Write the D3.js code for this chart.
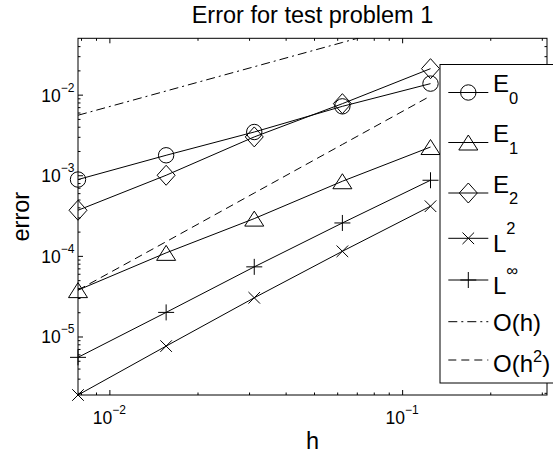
<!DOCTYPE html>
<html>
<head>
<meta charset="utf-8">
<script src="https://cdn.jsdelivr.net/npm/d3@7"></script>
<style>
  html, body { margin: 0; padding: 0; background: #fff; }
  svg { display: block; font-family: "Liberation Sans", Arial, Helvetica, sans-serif; }
</style>
</head>
<body>
<svg id="chart" width="553" height="453"></svg>
<script>
// Mesh sizes and measured errors
const h    = [1/128, 1/64, 1/32, 1/16, 1/8];
const E0   = [8.85e-4, 1.77e-3, 3.44e-3, 7.16e-3, 1.37e-2];
const E1   = [3.76e-5, 1.09e-4, 2.90e-4, 8.43e-4, 2.24e-3];
const E2   = [3.68e-4, 1.00e-3, 2.99e-3, 7.73e-3, 2.10e-2];
const L2   = [1.88e-6, 7.60e-6, 3.02e-5, 1.14e-4, 4.13e-4];
const Linf = [5.51e-6, 1.99e-5, 7.31e-5, 2.56e-4, 8.67e-4];
// Reference slopes
const Oh   = [5.55e-3, 1.11e-2, 2.22e-2, 4.44e-2, 8.88e-2];
const Oh2  = [3.76e-5, 1.50e-4, 6.02e-4, 2.41e-3, 9.63e-3];

const seriesLabels = ["E_0", "E_1", "E_2", "L^2", "L^\u221E", "O(h)", "O(h^2)"];

// Axis limits and ticks
const xLimits = [1/128, 0.3125];
const yLimits = [1.88e-6, 0.05];
const xTicks = [1e-2, 1e-1];
const xTickLabels = ["10^\u22122", "10^\u22121"];
const yTicks = [1e-5, 1e-4, 1e-3, 1e-2];
const yTickLabels = ["10^\u22125", "10^\u22124", "10^\u22123", "10^\u22122"];

const titleText = "Error for test problem 1";
const xLabelText = "h";
const yLabelText = "error";

// ---------------------------------------------------------------
const svg = d3.select("#chart");
const L = 78, R = 547, T = 38.3, B = 395;

const x = d3.scaleLog().domain(xLimits).range([L, R]);
const y = d3.scaleLog().domain(yLimits).range([B, T]);

function minorTicks(lim) {
  const out = [];
  const lo = Math.floor(Math.log10(lim[0])), hi = Math.ceil(Math.log10(lim[1]));
  for (let e = lo; e <= hi; e++) {
    for (let m = 2; m <= 9; m++) {
      const v = m * Math.pow(10, e);
      if (v >= lim[0] * 1.0001 && v <= lim[1] * 0.9999) out.push(v);
    }
  }
  return out;
}
const xMinor = minorTicks(xLimits);
const yMinor = minorTicks(yLimits);

// Inward tick marks on all four sides
function tickGroup(axisFn, scale, values, size, transform) {
  const g = svg.append("g")
    .attr("transform", transform)
    .call(axisFn(scale).tickValues(values).tickSize(size).tickSizeOuter(0).tickFormat(""));
  g.select(".domain").remove();
  g.selectAll(".tick line").attr("stroke", "#000").attr("stroke-width", 1);
  return g;
}
const MAJ = -5, MIN = -2.5;
tickGroup(d3.axisBottom, x, xTicks, MAJ, `translate(0,${B})`);
tickGroup(d3.axisBottom, x, xMinor, MIN, `translate(0,${B})`);
tickGroup(d3.axisTop, x, xTicks, MAJ, `translate(0,${T})`);
tickGroup(d3.axisTop, x, xMinor, MIN, `translate(0,${T})`);
tickGroup(d3.axisLeft, y, yTicks, MAJ, `translate(${L},0)`);
tickGroup(d3.axisLeft, y, yMinor, MIN, `translate(${L},0)`);
tickGroup(d3.axisRight, y, yTicks, MAJ, `translate(${R},0)`);
tickGroup(d3.axisRight, y, yMinor, MIN, `translate(${R},0)`);

// Axes box
svg.append("rect")
  .attr("x", L).attr("y", T).attr("width", R - L).attr("height", B - T)
  .attr("fill", "none").attr("stroke", "#000").attr("stroke-width", 1);

// TeX-like text: "_c" subscript, "^c..." superscript
function texText(sel, str, size, subSize, supDy, subDy) {
  let i = 0, base = "";
  const parts = [];
  while (i < str.length) {
    const c = str[i];
    if (c === "_" || c === "^") {
      if (base) { parts.push({t: base, k: "n"}); base = ""; }
      // superscripts of tick labels run to end; otherwise single character
      let j = i + 1, s = str[j];
      if (c === "^" && str[j] === "\u2212") { s = str.slice(j, j + 2); j++; }
      parts.push({t: s, k: c === "_" ? "sub" : "sup"});
      i = j + 1;
    } else { base += c; i++; }
  }
  if (base) parts.push({t: base, k: "n"});
  let cur = 0;
  parts.forEach(p => {
    const ts = sel.append("tspan").text(p.t);
    let target = 0;
    if (p.k === "sub") { target = subDy; ts.attr("font-size", subSize); }
    else if (p.k === "sup") { target = supDy; ts.attr("font-size", subSize); }
    else { ts.attr("font-size", size); }
    ts.attr("dy", target - cur);
    cur = target;
  });
}

// Tick labels
xTicks.forEach((v, i) => {
  const t = svg.append("text").attr("x", x(v)).attr("y", 424.3)
    .attr("text-anchor", "middle");
  texText(t, xTickLabels[i], 17.5, 12, -10, 0);
});
yTicks.forEach((v, i) => {
  const t = svg.append("text").attr("x", 74.5).attr("y", y(v) + 7)
    .attr("text-anchor", "end");
  texText(t, yTickLabels[i], 17.5, 12, -10, 0);
});

// Title and axis labels
svg.append("text").attr("x", (L + R) / 2).attr("y", 22.5)
  .attr("text-anchor", "middle").attr("font-size", 23.5).text(titleText);
svg.append("text").attr("x", (L + R) / 2).attr("y", 449)
  .attr("text-anchor", "middle").attr("font-size", 23.5).text(xLabelText);
svg.append("text").attr("transform", `translate(28.5,${(T + B) / 2}) rotate(-90)`)
  .attr("text-anchor", "middle").attr("font-size", 23.5).text(yLabelText);

// Marker shapes
const markers = {
  circle:   "M7.7,0A7.7,7.7 0 1,1 -7.7,0A7.7,7.7 0 1,1 7.7,0Z",
  triangle: "M0,-7.5L9.5,7.5L-9.5,7.5Z",
  diamond:  "M0,-10L9,0L0,10L-9,0Z",
  cross:    "M-5.8,-5.8L5.8,5.8M-5.8,5.8L5.8,-5.8",
  plus:     "M-8,0L8,0M0,-8L0,8"
};

const series = [
  {vals: E0,   marker: "circle",   dash: null},
  {vals: E1,   marker: "triangle", dash: null},
  {vals: E2,   marker: "diamond",  dash: null},
  {vals: L2,   marker: "cross",    dash: null},
  {vals: Linf, marker: "plus",     dash: null},
  {vals: Oh,   marker: null,       dash: "9,4,2,4"},
  {vals: Oh2,  marker: null,       dash: "8,5"}
];

svg.append("clipPath").attr("id", "plotClip")
  .append("rect").attr("x", L).attr("y", T).attr("width", R - L).attr("height", B - T);

const plot = svg.append("g").attr("clip-path", "url(#plotClip)");
const line = d3.line().x(d => x(d[0])).y(d => y(d[1]));

series.forEach(s => {
  const pts = h.map((hv, i) => [hv, s.vals[i]]);
  plot.append("path").attr("d", line(pts))
    .attr("fill", "none").attr("stroke", "#000").attr("stroke-width", 1)
    .attr("stroke-dasharray", s.dash);
});
// markers are not clipped (sit on the axes edges)
series.forEach(s => {
  if (!s.marker) return;
  h.forEach((hv, i) => {
    svg.append("path").attr("d", markers[s.marker])
      .attr("transform", `translate(${x(hv)},${y(s.vals[i])})`)
      .attr("fill", "none").attr("stroke", "#000").attr("stroke-width", 1);
  });
});

// Legend
const legX = 440, legY = 64.5, legW = 125, legH = 318.5;
const leg = svg.append("g");
leg.append("rect").attr("x", legX).attr("y", legY).attr("width", legW).attr("height", legH)
  .attr("fill", "#fff").attr("stroke", "#000").attr("stroke-width", 1);

const rowLineY = [92.5, 142.5, 193, 238.3, 280, 321.7, 360];
const rowTextY = [92, 142, 192.7, 251.7, 294, 331, 371.5];
const rowSupDy = [0, 0, 0, -18, -18, 0, -10];

series.forEach((s, i) => {
  leg.append("line").attr("x1", 448.3).attr("x2", 488.3)
    .attr("y1", rowLineY[i]).attr("y2", rowLineY[i])
    .attr("stroke", "#000").attr("stroke-width", 1)
    .attr("stroke-dasharray", s.dash);
  if (s.marker) {
    leg.append("path").attr("d", markers[s.marker])
      .attr("transform", `translate(468.3,${rowLineY[i]})`)
      .attr("fill", "none").attr("stroke", "#000").attr("stroke-width", 1);
  }
  const t = leg.append("text").attr("x", 493).attr("y", rowTextY[i]);
  texText(t, seriesLabels[i], 24, 16.5, rowSupDy[i], 11.6);
});
</script>
</body>
</html>
